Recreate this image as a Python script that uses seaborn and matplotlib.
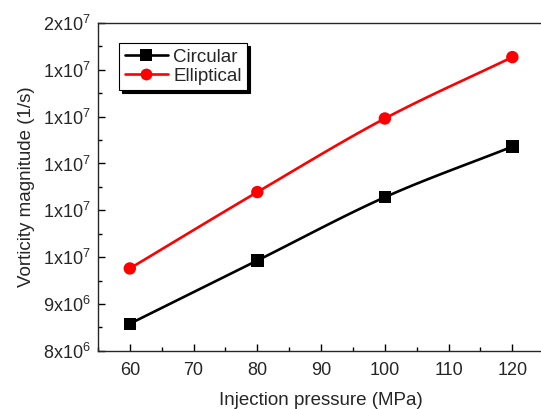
import matplotlib
matplotlib.use("Agg")
import matplotlib.pyplot as plt
from matplotlib.lines import Line2D
from matplotlib.ticker import FuncFormatter, MultipleLocator
import numpy as np
import pandas as pd
import seaborn as sns

# data
pressure = [60, 80, 100, 120]
circular = [8.58e6, 9.93e6, 1.128e7, 1.236e7]
elliptical = [9.76e6, 1.139e7, 1.296e7, 1.427e7]
series_names = ["Circular", "Elliptical"]
colors = {"Circular": "black", "Elliptical": "red"}
markers = {"Circular": "s", "Elliptical": "o"}

df = pd.DataFrame({
    "pressure": pressure * 2,
    "vorticity": circular + elliptical,
    "shape": ["Circular"] * 4 + ["Elliptical"] * 4,
})


def smooth(x, y, n=30):
    # Catmull-Rom curve through the data points (Origin-like smooth line)
    x = np.asarray(x, float)
    y = np.asarray(y, float)
    px = np.concatenate([[2 * x[0] - x[1]], x, [2 * x[-1] - x[-2]]])
    py = np.concatenate([[2 * y[0] - y[1]], y, [2 * y[-1] - y[-2]]])
    xs, ys = [], []
    t = np.linspace(0, 1, n)
    for i in range(1, len(px) - 2):
        for p, out in ((px, xs), (py, ys)):
            p0, p1, p2, p3 = p[i - 1], p[i], p[i + 1], p[i + 2]
            out.extend(0.5 * (2 * p1 + (-p0 + p2) * t
                              + (2 * p0 - 5 * p1 + 4 * p2 - p3) * t ** 2
                              + (-p0 + 3 * p1 - 3 * p2 + p3) * t ** 3))
    return xs, ys


sns.set_style("ticks")
plt.rcParams["font.family"] = ["Liberation Sans", "DejaVu Sans"]
plt.rcParams["mathtext.fontset"] = "custom"
plt.rcParams["mathtext.rm"] = "Liberation Sans"

fig = plt.figure(figsize=(5.41, 4.09), dpi=100)
ax = fig.add_axes([0.181, 0.142, 0.825, 0.802])

for name in series_names:
    sub = df[df["shape"] == name]
    sx, sy = smooth(sub["pressure"], sub["vorticity"])
    ax.plot(sx, sy, color=colors[name], lw=1.9, zorder=2)
sns.scatterplot(data=df, x="pressure", y="vorticity", hue="shape", style="shape",
                palette=colors, markers=markers, s=80, edgecolor="none",
                legend=False, ax=ax, zorder=3)

ax.set_xlim(55, 125)
ax.set_ylim(8e6, 1.5e7)
ax.xaxis.set_major_locator(MultipleLocator(10))
ax.xaxis.set_minor_locator(MultipleLocator(5))
ax.yaxis.set_major_locator(MultipleLocator(1e6))
ax.yaxis.set_minor_locator(MultipleLocator(5e5))


def sci(v, pos):
    e = int(np.floor(np.log10(v)))
    m = v / 10 ** e
    return r"$\mathregular{%.0fx10^{%d}}$" % (m, e)


ax.yaxis.set_major_formatter(FuncFormatter(sci))
ax.tick_params(which="both", direction="in", labelsize=13, width=1, color="black")
ax.tick_params(which="major", length=5)
ax.tick_params(which="minor", length=3)
ax.tick_params(axis="x", pad=8)
ax.tick_params(axis="y", pad=5)
for side in ["left", "bottom", "top"]:
    ax.spines[side].set_linewidth(1.0)
ax.spines["right"].set_visible(False)

ax.set_xlabel("Injection pressure (MPa)", fontsize=13.5, labelpad=9)
ax.set_ylabel("Vorticity magnitude (1/s)", fontsize=13.5, labelpad=6)

handles = [Line2D([], [], color=colors[n], marker=markers[n], lw=1.9, markersize=8.5,
                  markeredgewidth=0) for n in series_names]
leg = ax.legend(handles, series_names, loc="upper left", bbox_to_anchor=(0.047, 0.939),
                fontsize=13.5, frameon=True, fancybox=False, shadow={"color": "black", "alpha": 1},
                handlelength=2.3, handletextpad=0.3, borderpad=0.3, labelspacing=0.1,
                borderaxespad=0)
leg.get_frame().set_edgecolor("black")
leg.get_frame().set_linewidth(0.8)

fig.savefig("out.png", dpi=100)
